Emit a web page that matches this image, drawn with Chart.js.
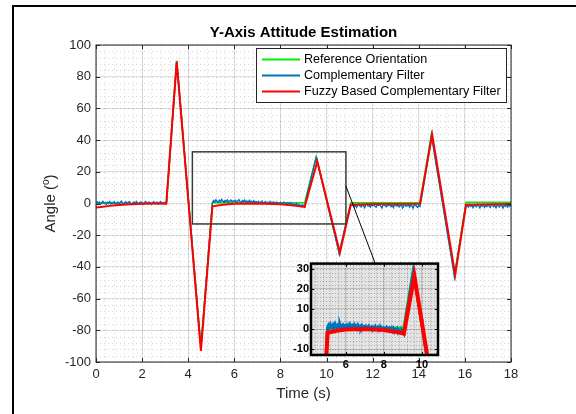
<!DOCTYPE html>
<html>
<head>
<meta charset="utf-8">
<script src="https://cdn.jsdelivr.net/npm/chart.js@4.4.0/dist/chart.umd.min.js"></script>
<style>
html, body { margin: 0; padding: 0; background: #fff; }
#wrap { position: relative; width: 576px; height: 414px; overflow: hidden; }
#main { position: absolute; left: 0; top: 0; }
#inset { position: absolute; left: 280px; top: 255px; }
</style>
</head>
<body>
<div id="wrap">
  <canvas id="main" width="576" height="414"></canvas>
  <canvas id="inset" width="165" height="120"></canvas>
</div>
<script>
'use strict';
// reference orientation (breakpoints)
let refTime = [0, 3.05, 3.5, 4.55, 5.05, 9.05, 9.55, 10.55, 11.05, 14.05, 14.55, 15.55, 16.05, 18]
let refAngle = [0, 0, 90, -91, 0.5, 0.5, 29.5, -31, 0.5, 0.5, 44, -45, 0.8, 0.8]

// fuzzy based complementary filter (breakpoints)
let fuzzyTime = [0, 0.3, 0.6, 1.0, 1.5, 2.0, 2.5, 3.05, 3.5, 4.55, 5.05, 5.5, 6.0, 7.0, 8.0, 8.7, 9.05, 9.6, 10.58, 11.05, 12.0, 14.05, 14.58, 15.58, 16.05, 17.0, 18]
let fuzzyAngle = [-2.6, -2.0, -1.5, -1.0, -0.5, -0.2, 0, 0, 89.5, -93, -1.8, -0.8, -0.2, 0, -0.5, -1.5, -2.2, 26.5, -31, -0.8, -0.3, -0.2, 43.5, -45, -0.8, -0.4, -0.3]

// complementary filter, sampled every 0.05 s (one row per second)
let cfStart = 0
let cfStep = 0.05
let cfAngle = [
  0.4, 1.1, 0.2, 0.8, -0.3, 0.6, 1.3, 0.1, 0.5, -0.4, 0.9, 0.3, 1.2, -0.2, 0.7, 0.2, 1.0, -0.5, 0.4, 0.8,
  0.1, 0.6, 1.4, 0.3, -0.3, 0.5, 0.9, -0.1, 0.7, 1.1, 0.2, -0.6, 0.4, 0.8, 0.0, 1.2, 0.3, -0.2, 0.6, 1.0,
  0.2, -0.4, 0.7, 1.3, 0.4, -0.1, 0.9, 0.5, -0.5, 0.3, 1.1, 0.6, 0.0, 0.8, -0.3, 0.4, 1.2, 0.2, -0.2, 0.7,
  0.3, -0.2, 9.0, 19.0, 29.0, 39.5, 49.5, 59.5, 69.5, 79.5, 89.5, 81.4, 72.8, 64.1, 55.5, 46.9, 38.3, 29.7, 21.0, 12.4,
  3.8, -4.8, -13.4, -22.1, -30.7, -39.3, -47.9, -56.5, -65.2, -73.8, -82.4, -90.5, -81.9, -72.8, -63.7, -54.6, -45.5, -36.4, -27.3, -18.2,
  -9.1, 0.5, 1.8, 0.9, 2.3, 1.4, 0.6, 2.0, 1.1, 2.5, 1.5, 0.8, 1.9, 1.2, 2.2, 0.7, 1.6, 2.1, 1.0, 1.7,
  1.3, 2.0, 0.8, 1.6, 2.4, 1.1, 0.5, 1.8, 1.2, 2.1, 0.9, 1.5, 0.4, 1.9, 1.0, 1.4, 0.6, 1.7, 0.8, 1.2,
  0.5, 1.3, 0.2, 0.9, 1.5, 0.1, 0.7, 1.1, -0.2, 0.8, 0.3, 1.2, 0.0, 0.6, 1.0, -0.3, 0.5, 0.9, 0.2, -0.1,
  0.6, 0.1, -0.4, 0.8, 0.2, -0.6, 0.4, -0.2, 0.5, -0.8, 0.1, -1.2, -0.3, -0.9, 0.0, -1.5, -0.6, -1.1, -2.0, -0.7,
  -1.4, -2.2, 1.5, 5.0, 8.0, 11.0, 14.0, 17.2, 20.0, 23.1, 26.0, 28.8, 26.2, 23.2, 20.2, 17.1, 14.1, 11.1, 8.0, 5.0,
  2.0, -1.1, -4.1, -7.1, -10.2, -13.2, -16.2, -19.2, -22.3, -25.3, -28.3, -31.8, -28.2, -25.0, -21.9, -18.7, -15.6, -12.4, -9.3, -6.1,
  -3.0, -0.5, -1.2, -0.4, -1.9, -0.8, -2.4, -1.0, -0.3, -1.6, -2.1, -0.7, -1.3, -2.6, -0.9, -0.2, -1.5, -1.1, -2.2, -0.6,
  -1.4, -0.5, -1.8, -2.3, -0.9, -1.2, -0.3, -1.7, -2.8, -1.0, -0.6, -1.5, -2.0, -0.8, -1.3, -0.2, -1.9, -1.1, -2.5, -0.7,
  -1.0, -1.6, -0.4, -2.1, -1.3, -0.8, -2.7, -1.2, -0.5, -1.8, -1.4, -0.9, -2.2, -0.6, -1.5, -2.9, -1.1, -0.7, -1.7, -2.4,
  -1.2, -1.8, 2.0, 6.3, 10.6, 15.0, 19.4, 23.8, 28.2, 32.7, 37.4, 43.2, 38.6, 34.1, 29.7, 25.2, 20.8, 16.3, 11.9, 7.4,
  3.0, -1.5, -5.9, -10.4, -14.8, -19.3, -23.7, -28.2, -32.6, -37.1, -41.5, -46.5, -41.6, -37.0, -32.4, -27.9, -23.3, -18.7, -14.1, -9.5,
  -4.9, -0.8, -1.3, -2.2, -0.6, -1.8, -1.1, -2.5, -0.9, -1.6, -2.0, -0.4, -1.4, -2.7, -1.0, -1.7, -0.7, -2.3, -1.2, -1.9,
  -0.8, -1.5, -2.4, -1.1, -0.5, -1.9, -1.3, -2.6, -0.9, -1.6, -2.1, -0.7, -1.4, -2.8, -1.0, -1.8, -0.6, -2.2, -1.2, -1.7,
  -1.1
]

let seriesNames = ['Reference Orientation', 'Complementary Filter', 'Fuzzy Based Complementary Filter']
let seriesColors = ['#00ee00', '#0072bd', '#ff0000']

let mainXTicks = [0, 2, 4, 6, 8, 10, 12, 14, 16, 18]
let mainYTicks = [-100, -80, -60, -40, -20, 0, 20, 40, 60, 80, 100]
let insetXTicks = [6, 8, 10]
let insetYTicks = [-10, 0, 10, 20, 30]
// zoomed window (also the inset range)
let zoomX = [4.18, 10.84]
let zoomY = [-12.9, 32.6]

const sans = "'Liberation Sans', Arial, Helvetica, sans-serif"
Chart.defaults.font.family = sans

function toPoints(times, values) {
  return values.map((v, i) => ({x: times[i], y: v}))
}
let cfPoints = cfAngle.map((v, i) => ({x: cfStart + i * cfStep, y: v}))

function makeDatasets(widths) {
  return [
    {label: seriesNames[0], data: toPoints(refTime, refAngle), borderColor: seriesColors[0], borderWidth: widths[0], order: 2},
    {label: seriesNames[1], data: cfPoints, borderColor: seriesColors[1], borderWidth: widths[1], order: 1},
    {label: seriesNames[2], data: toPoints(fuzzyTime, fuzzyAngle), borderColor: seriesColors[2], borderWidth: widths[2], order: 0}
  ].map(d => Object.assign(d, {pointRadius: 0, tension: 0, fill: false, clip: 0}))
}

function minorValues(scale, parts) {
  let t = scale.ticks.map(k => k.value)
  let step = (t[1] - t[0]) / parts
  let out = []
  for (let v = Math.ceil(scale.min / step - 1e-9) * step; v <= scale.max + 1e-9; v += step) out.push(v)
  return out
}

function drawMinorGrid(chart, xParts, yParts, color, dash) {
  const {ctx, chartArea: a, scales: {x, y}} = chart
  ctx.save()
  ctx.strokeStyle = color
  ctx.lineWidth = 1
  ctx.setLineDash(dash)
  ctx.beginPath()
  minorValues(x, xParts).forEach(v => {
    let p = Math.round(x.getPixelForValue(v)) + 0.5
    ctx.moveTo(p, a.top); ctx.lineTo(p, a.bottom)
  })
  minorValues(y, yParts).forEach(v => {
    let p = Math.round(y.getPixelForValue(v)) + 0.5
    ctx.moveTo(a.left, p); ctx.lineTo(a.right, p)
  })
  ctx.stroke()
  ctx.restore()
}

function drawBox(chart, color, width, tickLen) {
  const {ctx, chartArea: a, scales: {x, y}} = chart
  ctx.save()
  ctx.strokeStyle = color
  ctx.lineWidth = width
  ctx.strokeRect(a.left, a.top, a.right - a.left, a.bottom - a.top)
  ctx.lineWidth = 1
  ctx.beginPath()
  x.ticks.forEach(t => {
    let p = Math.round(x.getPixelForValue(t.value)) + 0.5
    ctx.moveTo(p, a.bottom); ctx.lineTo(p, a.bottom - tickLen)
    ctx.moveTo(p, a.top); ctx.lineTo(p, a.top + tickLen)
  })
  y.ticks.forEach(t => {
    let p = Math.round(y.getPixelForValue(t.value)) + 0.5
    ctx.moveTo(a.left, p); ctx.lineTo(a.left + tickLen, p)
    ctx.moveTo(a.right, p); ctx.lineTo(a.right - tickLen, p)
  })
  ctx.stroke()
  ctx.restore()
}

// ---------- inset ----------
const insetCanvas = document.getElementById('inset')
const insetDecor = {
  id: 'insetDecor',
  beforeDraw(chart) {
    const {ctx, chartArea: a} = chart
    ctx.save()
    ctx.fillStyle = '#e3e3e3'
    ctx.fillRect(a.left, a.top, a.right - a.left, a.bottom - a.top)
    ctx.restore()
  },
  beforeDatasetsDraw(chart) { drawMinorGrid(chart, 5, 5, 'rgba(0,0,0,0.25)', [1, 2]) },
  afterDatasetsDraw(chart) { drawBox(chart, '#000', 2.5, 3) }
}
const insetChart = new Chart(insetCanvas, {
  type: 'line',
  data: {datasets: makeDatasets([3, 3, 4])},
  plugins: [insetDecor],
  options: {
    responsive: false, animation: false, devicePixelRatio: 1,
    layout: {padding: {left: 0, top: 5, right: 7, bottom: 0}},
    plugins: {legend: {display: false}, title: {display: false}, tooltip: {enabled: false}},
    scales: {
      x: {
        type: 'linear', min: zoomX[0], max: zoomX[1],
        afterBuildTicks: s => { s.ticks = insetXTicks.map(v => ({value: v})) },
        afterFit: s => { s.height = 20 },
        grid: {color: 'rgba(0,0,0,0.16)', drawTicks: false},
        border: {display: false},
        ticks: {padding: 3, color: '#000', font: {size: 11, weight: 'bold'}, maxRotation: 0, autoSkip: false}
      },
      y: {
        type: 'linear', min: zoomY[0], max: zoomY[1],
        afterBuildTicks: s => { s.ticks = insetYTicks.map(v => ({value: v})) },
        afterFit: s => { s.width = 31 },
        grid: {color: 'rgba(0,0,0,0.16)', drawTicks: false},
        border: {display: false},
        ticks: {padding: 2, color: '#000', font: {size: 11, weight: 'bold'}, autoSkip: false}
      }
    }
  }
})

// ---------- main ----------
const mainDecor = {
  id: 'mainDecor',
  beforeDatasetsDraw(chart) { drawMinorGrid(chart, 5, 5, 'rgba(0,0,0,0.16)', [1, 3]) },
  afterDatasetsDraw(chart) { drawBox(chart, '#262626', 1, 4) },
  afterDraw(chart) {
    const {ctx, chartArea: a, scales: {x, y}} = chart
    ctx.save()

    // zoom rectangle and connector to the inset
    let rx0 = x.getPixelForValue(zoomX[0]), rx1 = x.getPixelForValue(zoomX[1])
    let ry0 = y.getPixelForValue(zoomY[1]), ry1 = y.getPixelForValue(zoomY[0])
    ctx.strokeStyle = '#3a3a3a'
    ctx.lineWidth = 1.5
    ctx.strokeRect(rx0, ry0, rx1 - rx0, ry1 - ry0)
    let ix = insetCanvas.offsetLeft + insetChart.scales.x.getPixelForValue(7.55)
    let iy = insetCanvas.offsetTop + insetChart.chartArea.top
    ctx.strokeStyle = '#000'
    ctx.lineWidth = 1
    ctx.beginPath()
    ctx.moveTo(rx1, y.getPixelForValue(11))
    ctx.lineTo(ix, iy)
    ctx.stroke()

    // legend
    let lx = 256.5, ly = 48.5, lw = 250, lh = 54
    ctx.fillStyle = '#fff'
    ctx.fillRect(lx, ly, lw, lh)
    ctx.strokeStyle = '#262626'
    ctx.lineWidth = 1
    ctx.strokeRect(lx, ly, lw, lh)
    ctx.font = '12.6px ' + sans
    ctx.textBaseline = 'middle'
    ctx.textAlign = 'left'
    chart.data.datasets.forEach((d, i) => {
      let rowY = 59.5 + i * 16
      ctx.strokeStyle = d.borderColor
      ctx.lineWidth = 2
      ctx.beginPath()
      ctx.moveTo(262, rowY); ctx.lineTo(300, rowY)
      ctx.stroke()
      ctx.fillStyle = '#000'
      ctx.fillText(d.label, 304, rowY + 0.5)
    })

    // title
    ctx.fillStyle = '#000'
    ctx.textAlign = 'center'
    ctx.font = 'bold 15px ' + sans
    ctx.fillText('Y-Axis Attitude Estimation', (a.left + a.right) / 2, 33)

    // axis titles
    ctx.fillStyle = '#262626'
    ctx.font = '15px ' + sans
    ctx.fillText('Time (s)', (a.left + a.right) / 2, 394)

    ctx.translate(51, (a.top + a.bottom) / 2)
    ctx.rotate(-Math.PI / 2)
    ctx.textAlign = 'left'
    let big = '15px ' + sans, small = '10px ' + sans
    ctx.font = big
    let w1 = ctx.measureText('Angle (').width
    let w3 = ctx.measureText(')').width
    ctx.font = small
    let w2 = ctx.measureText('o').width
    let sx = -(w1 + w2 + w3) / 2
    ctx.font = big
    ctx.fillText('Angle (', sx, 0)
    ctx.font = small
    ctx.fillText('o', sx + w1, -5)
    ctx.font = big
    ctx.fillText(')', sx + w1 + w2, 0)
    ctx.setTransform(1, 0, 0, 1, 0, 0)

    // figure frame
    ctx.fillStyle = '#000'
    ctx.fillRect(12, 5, 564, 2)
    ctx.fillRect(12, 5, 2, 409)
    ctx.restore()
  }
}

const mainChart = new Chart(document.getElementById('main'), {
  type: 'line',
  data: {datasets: makeDatasets([1.5, 1.5, 2])},
  plugins: [mainDecor],
  options: {
    responsive: false, animation: false, devicePixelRatio: 1,
    layout: {padding: {left: 0, top: 45, right: 65, bottom: 0}},
    plugins: {legend: {display: false}, title: {display: false}, tooltip: {enabled: false}},
    scales: {
      x: {
        type: 'linear', min: 0, max: 18,
        afterBuildTicks: s => { s.ticks = mainXTicks.map(v => ({value: v})) },
        afterFit: s => { s.height = 52 },
        grid: {color: 'rgba(0,0,0,0.13)', drawTicks: false},
        border: {display: false},
        ticks: {padding: 5, color: '#262626', font: {size: 13}, maxRotation: 0, autoSkip: false}
      },
      y: {
        type: 'linear', min: -100, max: 100,
        afterBuildTicks: s => { s.ticks = mainYTicks.map(v => ({value: v})) },
        afterFit: s => { s.width = 96 },
        grid: {color: 'rgba(0,0,0,0.13)', drawTicks: false},
        border: {display: false},
        ticks: {padding: 5, color: '#262626', font: {size: 13}, autoSkip: false}
      }
    }
  }
})
</script>
</body>
</html>
